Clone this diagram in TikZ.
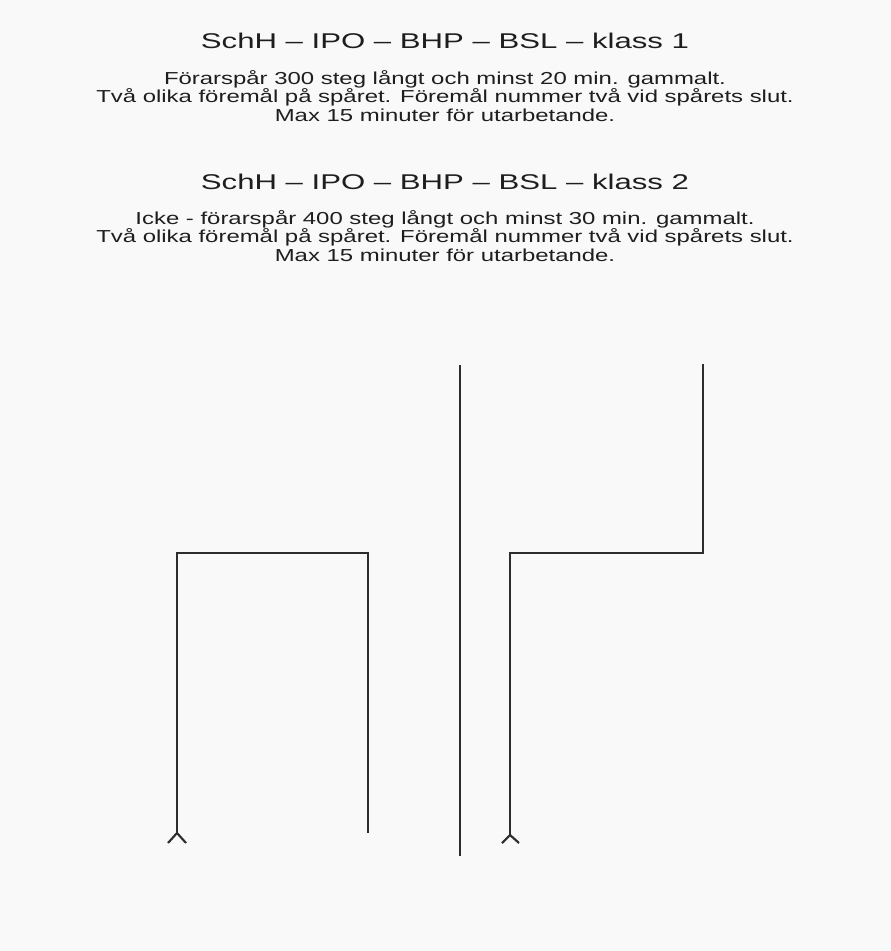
\documentclass[tikz,border=0pt]{standalone}
\usepackage{fontspec}
\setmainfont{Liberation Sans}
\usepackage{graphicx}
\definecolor{ink}{RGB}{30,30,30}
\definecolor{trackgray}{RGB}{45,45,45}
\definecolor{paper}{RGB}{249,249,249}
\newcommand\widetitle[1]{\scalebox{1.46}[1]{#1}}
\newcommand\widebody[1]{\scalebox{1.38}[1]{#1}}
\tikzset{
  titletext/.style={anchor=base, inner sep=0pt, font=\fontsize{16}{18}\selectfont, text=ink},
  bodytext/.style={anchor=base, inner sep=0pt, font=\fontsize{13}{15}\selectfont, text=ink},
  track/.style={line width=1.6pt, draw=trackgray, line join=miter},
}
\begin{document}
\begin{tikzpicture}[x=0.75pt,y=-0.75pt]
  \fill[paper] (0,0) rectangle (891,951);
  \useasboundingbox (0,0) rectangle (891,951);

  % Block 1
  \node[titletext] (t1) at (445,48) {\widetitle{SchH – IPO – BHP – BSL – klass 1}};
  \node[bodytext] (b1a) at (445,84) {\widebody{Förarspår 300 steg långt och minst 20 min. gammalt.}};
  \node[bodytext] (b1b) at (445,102.5) {\widebody{Två olika föremål på spåret. Föremål nummer två vid spårets slut.}};
  \node[bodytext] (b1c) at (445,121) {\widebody{Max 15 minuter för utarbetande.}};

  % Block 2
  \node[titletext] (t2) at (445,189) {\widetitle{SchH – IPO – BHP – BSL – klass 2}};
  \node[bodytext] (b2a) at (445,224) {\widebody{Icke - förarspår 400 steg långt och minst 30 min. gammalt.}};
  \node[bodytext] (b2b) at (445,242.5) {\widebody{Två olika föremål på spåret. Föremål nummer två vid spårets slut.}};
  \node[bodytext] (b2c) at (445,261) {\widebody{Max 15 minuter för utarbetande.}};

  % Left track (klass 1)
  \coordinate (l1) at (168,843);
  \coordinate (l0) at (177,833);
  \coordinate (l2) at (186,843);
  \coordinate (lc1) at (177,553);
  \coordinate (lc2) at (368,553);
  \coordinate (lend) at (368,833);
  \draw[track] (l1) -- (l0) -- (l2);
  \draw[track] (l0) -- (lc1) -- (lc2) -- (lend);

  % Middle divider
  \coordinate (mtop) at (460,365);
  \coordinate (mbot) at (460,856);
  \draw[track] (mtop) -- (mbot);

  % Right track (klass 2)
  \coordinate (r1) at (502,843);
  \coordinate (r0) at (510,835);
  \coordinate (r2) at (519,843);
  \coordinate (rc1) at (510,553);
  \coordinate (rc2) at (703,553);
  \coordinate (rend) at (703,364);
  \draw[track] (r1) -- (r0) -- (r2);
  \draw[track] (r0) -- (rc1) -- (rc2) -- (rend);
\end{tikzpicture}
\end{document}
